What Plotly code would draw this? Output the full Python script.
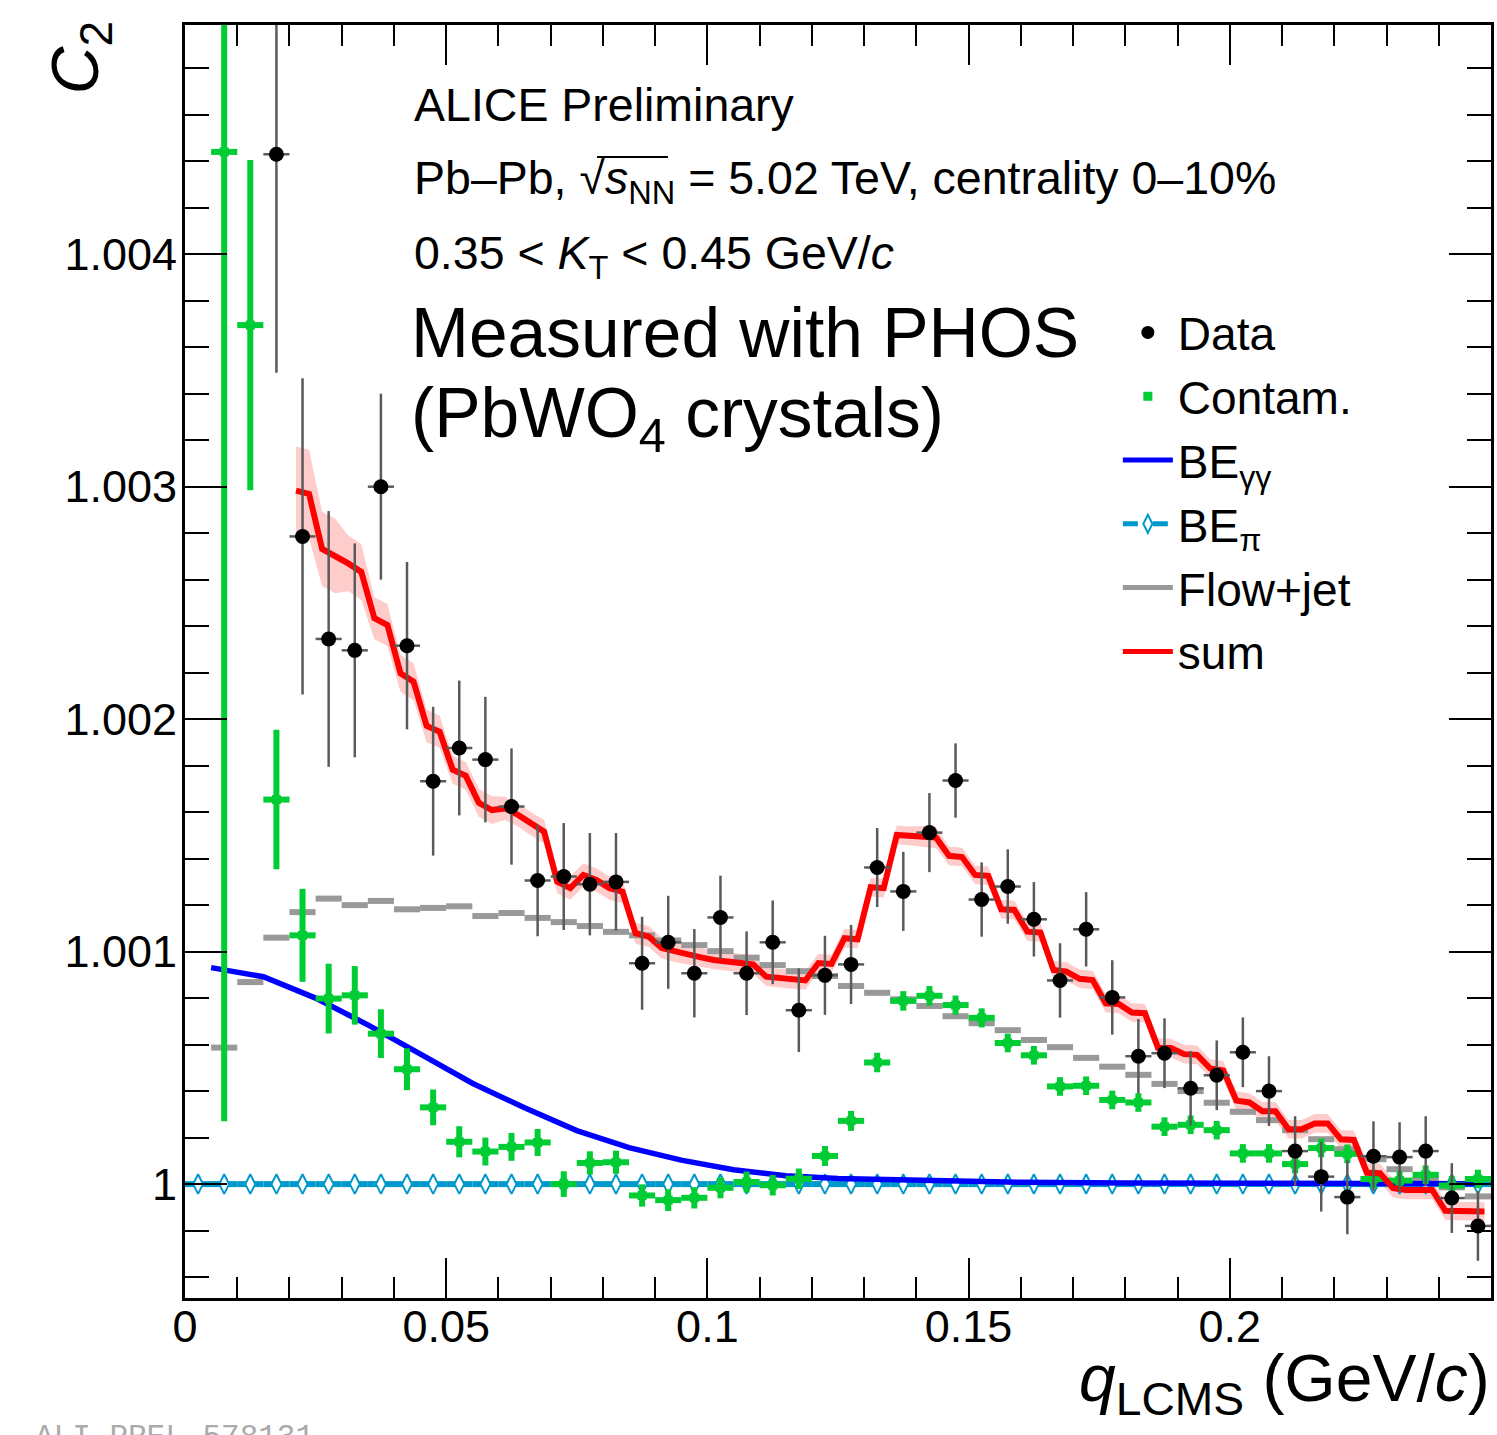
import plotly.graph_objects as go

# ---------------- data ----------------
bin_half = 0.0025

be_pi_q = [0.0025, 0.0075, 0.0125, 0.0175, 0.0225, 0.0275, 0.0325, 0.0375, 0.0425, 0.0475,
           0.0525, 0.0575, 0.0625, 0.0675, 0.0725, 0.0775, 0.0825, 0.0875, 0.0925, 0.0975,
           0.1025, 0.1075, 0.1125, 0.1175, 0.1225, 0.1275, 0.1325, 0.1375, 0.1425, 0.1475,
           0.1525, 0.1575, 0.1625, 0.1675, 0.1725, 0.1775, 0.1825, 0.1875, 0.1925, 0.1975,
           0.2025, 0.2075, 0.2125, 0.2175, 0.2225, 0.2275, 0.2325, 0.2375, 0.2425, 0.2475]
be_pi_val = [1.0, 1.0, 1.0, 1.0, 1.0, 1.0, 1.0, 1.0, 1.0, 1.0,
             1.0, 1.0, 1.0, 1.0, 1.0, 1.0, 1.0, 1.0, 1.0, 1.0,
             1.0, 1.0, 1.0, 1.0, 1.0, 1.0, 1.0, 1.0, 1.0, 1.0,
             1.0, 1.0, 1.0, 1.0, 1.0, 1.0, 1.0, 1.0, 1.0, 1.0,
             1.0, 1.0, 1.0, 1.0, 1.0, 1.0, 1.0, 1.0, 1.0, 1.0]

# contamination and flow+jet share the bins from 0.0075
cont_q = be_pi_q[1:]
cont_val = [1.00444, 1.003695, 1.001654, 1.00107, 1.000798, 1.000812, 1.000647, 1.000494, 1.00033, 1.000182,
            1.00014, 1.00016, 1.000179, 1.0, 1.000091, 1.000094, 0.999951, 0.999931, 0.999941, 0.999984,
            1.000009, 0.999995, 1.000023, 1.000121, 1.000272, 1.000523, 1.000788, 1.00081, 1.00077, 1.000715,
            1.000607, 1.000554, 1.00042, 1.000423, 1.000362, 1.000351, 1.000247, 1.000255, 1.000232, 1.000132,
            1.000132, 1.000086, 1.000155, 1.00013, 1.000022, 1.000015, 1.00004, 0.999994, 1.000022]
cont_err = [0.00417, 0.00071, 0.00030, 0.00020, 0.00015, 0.000126, 0.000105, 0.00009, 0.000077, 0.000067,
            0.00006, 0.00006, 0.000058, 0.000055, 0.00005, 0.00005, 0.000048, 0.000047, 0.000046, 0.000045,
            0.000045, 0.000044, 0.000044, 0.000043, 0.000043, 0.000042, 0.000042, 0.000042, 0.000041, 0.000041,
            0.00004, 0.00004, 0.00004, 0.00004, 0.00004, 0.00004, 0.00004, 0.00004, 0.00004, 0.00004,
            0.00004, 0.00004, 0.00004, 0.00004, 0.00004, 0.00004, 0.00004, 0.00004, 0.00004]

flow_q = be_pi_q[1:]
flow_val = [1.000587, 1.000869, 1.00106, 1.00117, 1.001228, 1.0012, 1.001218, 1.001182, 1.001188, 1.001195,
            1.001153, 1.001166, 1.001145, 1.001127, 1.00111, 1.001085, 1.00107, 1.001048, 1.001028, 1.001002,
            1.000974, 1.000942, 1.000916, 1.000895, 1.000852, 1.000823, 1.000795, 1.000766, 1.000722, 1.000692,
            1.000662, 1.00062, 1.000589, 1.000543, 1.000505, 1.00047, 1.000431, 1.0004, 1.00035, 1.000311,
            1.000275, 1.000232, 1.000193, 1.00015, 1.000107, 1.000064, 1.000021, 0.999986, 0.999947]

data_q = be_pi_q[3:]
data_val = [1.00443, 1.002786, 1.002345, 1.002296, 1.003, 1.002316, 1.001733, 1.001876, 1.001826, 1.001624,
            1.001306, 1.001323, 1.00129, 1.0013, 1.00095, 1.00104, 1.000907, 1.001147, 1.000907, 1.00104,
            1.000748, 1.000898, 1.000945, 1.001362, 1.001259, 1.001512, 1.001736, 1.001224, 1.00128, 1.001139,
            1.000876, 1.001096, 1.000803, 1.00055, 1.000563, 1.000412, 1.000468, 1.000567, 1.0004, 1.000142,
            1.000032, 0.999944, 1.00012, 1.000116, 1.000142, 0.99994, 0.99982]
data_err = [0.00094, 0.00068, 0.00055, 0.00046, 0.00040, 0.00036, 0.00032, 0.00029, 0.00027, 0.00025,
            0.00024, 0.00023, 0.00022, 0.00021, 0.00020, 0.00020, 0.00019, 0.00018, 0.00018, 0.00018,
            0.00018, 0.00017, 0.00017, 0.00017, 0.00017, 0.00017, 0.00016, 0.00016, 0.00016, 0.00016,
            0.00016, 0.00016, 0.00016, 0.00016, 0.00015, 0.00016, 0.00015, 0.00015, 0.00015, 0.00015,
            0.00015, 0.00016, 0.00015, 0.00015, 0.00015, 0.00015, 0.00015]

be_gg_q = [0.005, 0.015, 0.025, 0.035, 0.045, 0.055, 0.065, 0.075, 0.085, 0.095,
           0.105, 0.115, 0.125, 0.14, 0.16, 0.18, 0.2, 0.225, 0.2475]
be_gg_val = [1.000931, 1.000892, 1.0008, 1.000685, 1.00056, 1.000434, 1.000328, 1.00023, 1.000157, 1.000103,
             1.000062, 1.000036, 1.000024, 1.000015, 1.000008, 1.000005, 1.000003, 1.000002, 1.000001]

sum_q = [0.02125, 0.02375, 0.02625, 0.02875, 0.03125, 0.03375, 0.03625, 0.03875, 0.04125, 0.04375,
         0.04625, 0.04875, 0.05125, 0.05375, 0.05625, 0.05875, 0.06125, 0.06375, 0.06625, 0.06875,
         0.07125, 0.07375, 0.07625, 0.07875, 0.08125, 0.08375, 0.08625, 0.08875, 0.09125, 0.09375,
         0.09625, 0.09875, 0.10125, 0.10375, 0.10625, 0.10875, 0.11125, 0.11375, 0.11625, 0.11875,
         0.12125, 0.12375, 0.12625, 0.12875, 0.13125, 0.13375, 0.13625, 0.13875, 0.14125, 0.14375,
         0.14625, 0.14875, 0.15125, 0.15375, 0.15625, 0.15875, 0.16125, 0.16375, 0.16625, 0.16875,
         0.17125, 0.17375, 0.17625, 0.17875, 0.18125, 0.18375, 0.18625, 0.18875, 0.19125, 0.19375,
         0.19625, 0.19875, 0.20125, 0.20375, 0.20625, 0.20875, 0.21125, 0.21375, 0.21625, 0.21875,
         0.22125, 0.22375, 0.22625, 0.22875, 0.23125, 0.23375, 0.23625, 0.23875, 0.24125, 0.24375,
         0.24625, 0.24875]
sum_val = [1.002983, 1.002969, 1.002732, 1.002702, 1.002670, 1.002633, 1.002434, 1.002405, 1.002197, 1.002161,
           1.001971, 1.001946, 1.001782, 1.001756, 1.001640, 1.001609, 1.001616, 1.001588, 1.001549, 1.001516,
           1.001301, 1.001273, 1.001330, 1.001308, 1.001273, 1.001258, 1.001079, 1.001065, 1.001015, 1.001000,
           1.000984, 1.000975, 1.000964, 1.000958, 1.000951, 1.000945, 1.000892, 1.000885, 1.000880, 1.000876,
           1.000951, 1.000947, 1.001058, 1.001053, 1.001277, 1.001273, 1.001502, 1.001498, 1.001495, 1.001491,
           1.001412, 1.001407, 1.001330, 1.001326, 1.001182, 1.001179, 1.001086, 1.001082, 1.000921, 1.000914,
           1.000883, 1.000878, 1.000778, 1.000775, 1.000738, 1.000735, 1.000587, 1.000585, 1.000559, 1.000556,
           1.000497, 1.000489, 1.000359, 1.000351, 1.000313, 1.000313, 1.000236, 1.000236, 1.000261, 1.000261,
           1.000193, 1.000190, 1.000049, 1.000047, 0.999982, 0.999975, 0.999975, 0.999975, 0.999885, 0.999883,
           0.999883, 0.999882]
# half-width of the uncertainty band, one value per 0.005 bin (0.0225 ... 0.2475)
sum_band_hw = [0.00019, 0.00016, 0.00012, 0.00009, 0.00008, 0.00007, 0.00006, 0.00006, 0.00005, 0.00005,
               0.00005, 0.00005, 0.00005, 0.000045, 0.000045, 0.00004, 0.00004, 0.00004, 0.00004, 0.00004,
               0.00004, 0.00004, 0.00004, 0.00004, 0.000045, 0.00004, 0.00004, 0.00004, 0.00004, 0.00004,
               0.00004, 0.00004, 0.00004, 0.00004, 0.00004, 0.00004, 0.00004, 0.00004, 0.00004, 0.00004,
               0.00004, 0.00004, 0.00004, 0.00004, 0.00004, 0.00004]

x_ticks = [0, 0.05, 0.1, 0.15, 0.2]
x_ticktext = ["0", "0.05", "0.1", "0.15", "0.2"]
y_ticks = [1.0, 1.001, 1.002, 1.003, 1.004]
y_ticktext = ["1", "1.001", "1.002", "1.003", "1.004"]

# ---------------- styling ----------------
FONT = "Liberation Sans, Arial, Helvetica, sans-serif"
RED, BLUE, CYAN, GREEN, GRAY, ERRGRAY = "#ff0000", "#0000ff", "#0099cc", "#00cc33", "#999999", "#5a5a5a"

W, H = 1497, 1435
PL, PR, PT, PB = 185, 1494, 25, 1298


def xp(px):
    return (px - PL) / (PR - PL)


def yp(py):
    return (PB - py) / (PB - PT)


fig = go.Figure()

# uncertainty band of the sum
hw = [h for h in sum_band_hw for _ in (0, 1)]
upper = [v + h for v, h in zip(sum_val, hw)]
lower = [v - h for v, h in zip(sum_val, hw)]
fig.add_trace(go.Scatter(x=sum_q + sum_q[::-1], y=upper + lower[::-1], fill="toself",
                         fillcolor="rgba(255,0,0,0.2)", line=dict(width=0), mode="lines",
                         showlegend=False, hoverinfo="skip"))

# Flow+jet (horizontal bars)
fig.add_trace(go.Scatter(x=flow_q, y=flow_val, mode="markers",
                         marker=dict(size=1, color=GRAY),
                         error_x=dict(type="constant", value=bin_half, thickness=6, width=0, color=GRAY),
                         showlegend=False))

# BE_pi
fig.add_trace(go.Scatter(x=be_pi_q, y=be_pi_val, mode="markers",
                         marker=dict(symbol="diamond-tall", size=14, color="white",
                                     line=dict(color=CYAN, width=2)),
                         error_x=dict(type="constant", value=bin_half, thickness=6, width=0, color=CYAN),
                         showlegend=False))

# BE_gamma gamma
fig.add_trace(go.Scatter(x=be_gg_q, y=be_gg_val, mode="lines",
                         line=dict(color=BLUE, width=5.5), showlegend=False))

# Contamination
fig.add_trace(go.Scatter(x=cont_q, y=cont_val, mode="markers",
                         marker=dict(symbol="square", size=9, color=GREEN),
                         error_x=dict(type="constant", value=bin_half, thickness=6, width=0, color=GREEN),
                         error_y=dict(type="data", array=cont_err, thickness=6, width=0, color=GREEN),
                         showlegend=False))

# Sum
fig.add_trace(go.Scatter(x=sum_q, y=sum_val, mode="lines",
                         line=dict(color=RED, width=6), showlegend=False))

# Data
fig.add_trace(go.Scatter(x=data_q, y=data_val, mode="markers",
                         marker=dict(symbol="circle", size=15, color="black"),
                         error_x=dict(type="constant", value=bin_half, thickness=2.5, width=0, color=ERRGRAY),
                         error_y=dict(type="data", array=data_err, thickness=2.5, width=0, color=ERRGRAY),
                         showlegend=False))

# legend entries
leg = [
    dict(name="Data", mode="markers", marker=dict(symbol="circle", size=13, color="black")),
    dict(name="Contam.", mode="markers", marker=dict(symbol="square", size=9, color=GREEN)),
    dict(name="BE<sub>γγ</sub>", mode="lines", line=dict(color=BLUE, width=5)),
    dict(name="BE<sub>π</sub>", mode="lines+markers", line=dict(color=CYAN, width=5, dash="dash"),
         marker=dict(symbol="diamond-tall", size=13, color="white", line=dict(color=CYAN, width=2))),
    dict(name="Flow+jet", mode="lines", line=dict(color=GRAY, width=5)),
    dict(name="sum", mode="lines", line=dict(color=RED, width=5)),
]
for i, e in enumerate(leg):
    fig.add_trace(go.Scatter(x=[None], y=[None], legendgroup=f"g{i}", showlegend=True, **e))

ann = []


def text(s, px, py, size, xanchor="left", yanchor="middle", **kw):
    ann.append(dict(text=s, x=xp(px), y=yp(py), xref="paper", yref="paper", showarrow=False,
                    xanchor=xanchor, yanchor=yanchor, font=dict(family=FONT, size=size, color="black"), **kw))


text("ALICE Preliminary", 413, 105, 46.5)
text("Pb–Pb, √<i>s</i><sub>NN</sub> = 5.02 TeV, centrality 0–10%", 413, 181, 46.5)
text("0.35 < <i>K</i><sub>T</sub> < 0.45 GeV/<i>c</i>", 413, 256, 46.5)
text("Measured with PHOS", 410, 333, 69.5)
text("(PbWO<sub>4</sub> crystals)", 410, 418, 69.5)
text("<i>q</i><sub>LCMS</sub> (GeV/<i>c</i>)", 1495, 1383, 66, xanchor="right")
text("<i>C</i><sub>2</sub>", 80, 58, 66, xanchor="center", textangle=-90)
ann.append(dict(text="ALI-PREL-578131", x=xp(33), y=yp(1437), xref="paper", yref="paper",
                showarrow=False, xanchor="left", yanchor="middle",
                font=dict(family="Liberation Mono, DejaVu Sans Mono, monospace", size=31, color="#aaaaaa")))

axis_common = dict(showline=True, linewidth=3, linecolor="black", mirror="allticks",
                   ticks="inside", tickwidth=2, tickcolor="black", showgrid=False, zeroline=False,
                   tickfont=dict(family=FONT, size=45, color="black"))

fig.update_layout(
    width=W, height=H,
    margin=dict(l=PL, r=W - PR, t=PT, b=H - PB, pad=0),
    paper_bgcolor="white", plot_bgcolor="white",
    showlegend=True,
    legend=dict(x=xp(1120), y=yp(296), xanchor="left", yanchor="top", bgcolor="rgba(0,0,0,0)",
                font=dict(family=FONT, size=46, color="black"), tracegroupgap=1, itemwidth=50),
    xaxis=dict(range=[0, 0.25], tickvals=x_ticks, ticktext=x_ticktext, ticklen=40,
               minor=dict(ticks="inside", ticklen=21, tickwidth=2, dtick=0.01, tick0=0, tickcolor="black",
                          showgrid=False),
               ticklabelstandoff=-13, **axis_common),
    yaxis=dict(range=[0.99951, 1.004986], tickvals=y_ticks, ticktext=y_ticktext, ticklen=42,
               minor=dict(ticks="inside", ticklen=24, tickwidth=2, dtick=0.0002, tick0=1.0, tickcolor="black",
                          showgrid=False),
               ticklabelstandoff=-4, **axis_common),
    annotations=ann,
    shapes=[dict(type="line", xref="paper", yref="paper", x0=xp(598), x1=xp(669), y0=yp(157), y1=yp(157),
                 line=dict(color="black", width=2))],
)

fig.write_html("out.html")
